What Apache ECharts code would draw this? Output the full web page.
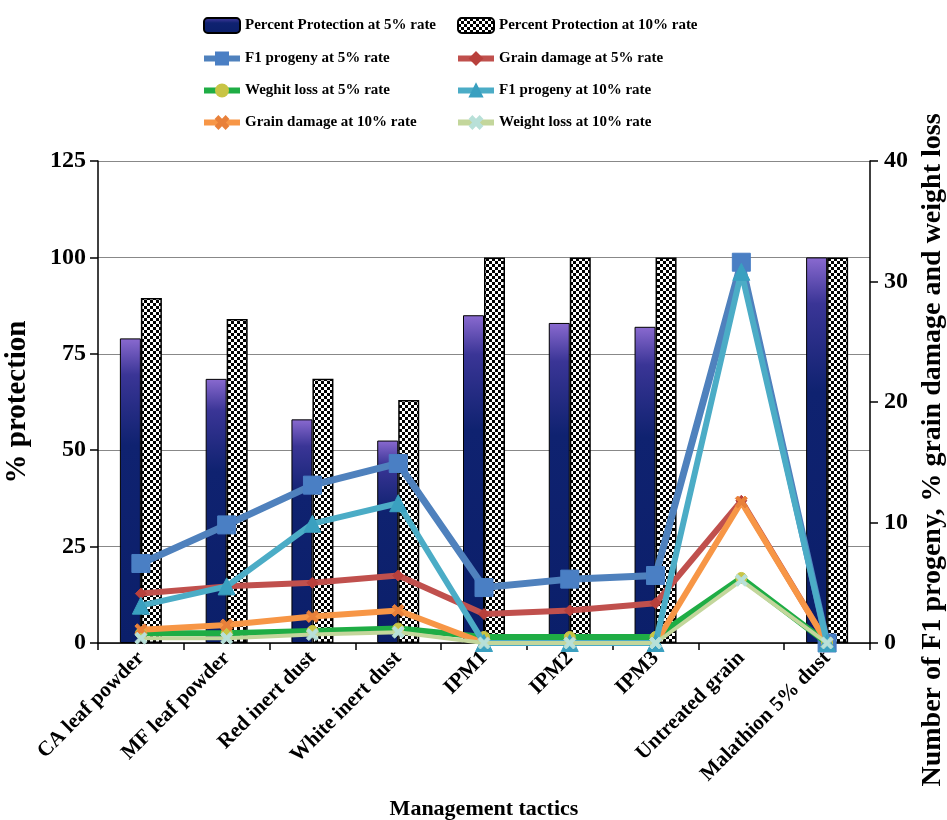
<!DOCTYPE html>
<html>
<head>
<meta charset="utf-8">
<script src="https://cdn.jsdelivr.net/npm/echarts@6/dist/echarts.min.js"></script>
<style>
html,body{margin:0;padding:0;background:#fff;}
#chart{width:947px;height:820px;}
</style>
</head>
<body>
<div id="chart"></div>
<script>
const categories = ["CA leaf powder","MF leaf powder","Red inert dust","White inert dust","IPM1","IPM2","IPM3","Untreated grain","Malathion 5% dust"];
const protection5 = [79, 68.5, 58, 52.5, 85, 83, 82, 0, 100];
const protection10 = [89.5, 84, 68.5, 63, 100, 100, 100, 0, 100];
const f1Progeny5 = [6.6, 9.8, 13.1, 14.9, 4.6, 5.3, 5.6, 31.6, 0];
const grainDamage5 = [4.1, 4.7, 5.0, 5.6, 2.4, 2.7, 3.3, 11.8, 0];
const weightLoss5 = [0.8, 0.8, 1.0, 1.2, 0.5, 0.5, 0.5, 5.4, 0];
const f1Progeny10 = [3.1, 4.7, 9.9, 11.6, 0, 0, 0, 30.8, 0];
const grainDamage10 = [1.1, 1.5, 2.2, 2.7, 0, 0, 0, 11.7, 0];
const weightLoss10 = [0.4, 0.4, 0.7, 0.9, 0, 0, 0, 5.2, 0];
const leftTicks = {min: 0, max: 125, interval: 25};
const rightTicks = {min: 0, max: 40, interval: 10};
const rightAxisTitle = 'Number of F1 progeny, % grain damage and weight loss';

const names = {
  p5: "Percent Protection at 5% rate",
  p10: "Percent Protection at 10% rate",
  f5: "F1 progeny at 5% rate",
  g5: "Grain damage at 5% rate",
  w5: "Weghit loss at 5% rate",
  f10: "F1 progeny at 10% rate",
  g10: "Grain damage at 10% rate",
  w10: "Weight loss at 10% rate"
};

// zero-height bars are not drawn
const barData = arr => arr.map(v => (v === 0 ? '-' : v));

// checker pattern
const cv = document.createElement('canvas');
cv.width = 6; cv.height = 6;
const cx = cv.getContext('2d');
cx.fillStyle = '#fff'; cx.fillRect(0,0,6,6);
cx.fillStyle = '#000'; cx.fillRect(0,0,3,3); cx.fillRect(3,3,3,3);

const FONT = '"Liberation Serif", "Times New Roman", serif';
const star = 'path://M2,0 L5,3 L8,0 L10,2 L7,5 L10,8 L8,10 L5,7 L2,10 L0,8 L3,5 L0,2 Z';

function lineSeries(name, data, color, width, symbol, size, symColor, z) {
  return {
    name, type: 'line', yAxisIndex: 1, data,
    symbol, symbolSize: size, showAllSymbol: true,
    lineStyle: {color, width},
    itemStyle: {color: symColor || color, borderColor: symColor || color, borderWidth: 1},
    z: z || 3,
    emphasis: {disabled: true}
  };
}

function legendItem(name, lw) {
  return lw ? {name, lineStyle: {width: lw}} : {name};
}

const legendText = {fontFamily: FONT, fontWeight: 'bold', fontSize: 15, color: '#000'};

const chart = echarts.init(document.getElementById('chart'));
chart.setOption({
  animation: false,
  backgroundColor: '#fff',
  legend: [
    {
      orient: 'vertical', left: 196, top: 12, itemGap: 17, itemWidth: 36, itemHeight: 15,
      textStyle: legendText,
      data: [legendItem(names.p5), legendItem(names.f5, 6), legendItem(names.w5, 6), legendItem(names.g10, 6)]
    },
    {
      orient: 'vertical', left: 450, top: 12, itemGap: 17, itemWidth: 36, itemHeight: 15,
      textStyle: legendText,
      data: [legendItem(names.p10), legendItem(names.g5, 6), legendItem(names.f10, 6), legendItem(names.w10, 6)]
    }
  ],
  grid: {left: 98, right: 77, top: 161, bottom: 177, outerBoundsMode: 'none', containLabel: false},
  graphic: [{
    type: 'text', x: 933, y: 450, rotation: Math.PI / 2, silent: true,
    style: {text: rightAxisTitle, fontFamily: FONT, fontWeight: 'bold', fontSize: 28, fill: '#000',
            align: 'center', verticalAlign: 'middle'}
  }],
  xAxis: {
    type: 'category', data: categories,
    axisLine: {lineStyle: {color: '#000', width: 1.5}},
    axisTick: {show: true, length: 7, lineStyle: {color: '#000', width: 1.5}},
    axisLabel: {rotate: 45, fontFamily: FONT, fontWeight: 'bold', fontSize: 21, color: '#000', margin: 12, interval: 0},
    name: 'Management tactics', nameLocation: 'middle', nameGap: 155,
    nameTextStyle: {fontFamily: FONT, fontWeight: 'bold', fontSize: 22, color: '#000'}
  },
  yAxis: [
    {
      type: 'value', min: leftTicks.min, max: leftTicks.max, interval: leftTicks.interval,
      axisLine: {show: true, lineStyle: {color: '#000', width: 1.5}},
      axisTick: {show: true, length: 8, lineStyle: {color: '#000', width: 1.5}},
      axisLabel: {fontFamily: FONT, fontWeight: 'bold', fontSize: 24, color: '#000', margin: 12},
      splitLine: {show: true, lineStyle: {color: '#888', width: 1.2}},
      name: '% protection', nameLocation: 'middle', nameGap: 66, nameRotate: 90,
      nameTextStyle: {fontFamily: FONT, fontWeight: 'bold', fontSize: 29, color: '#000'}
    },
    {
      type: 'value', min: rightTicks.min, max: rightTicks.max, interval: rightTicks.interval, position: 'right',
      axisLine: {show: true, lineStyle: {color: '#000', width: 1.5}},
      axisTick: {show: true, length: 8, lineStyle: {color: '#000', width: 1.5}},
      axisLabel: {fontFamily: FONT, fontWeight: 'bold', fontSize: 24, color: '#000', margin: 14},
      splitLine: {show: false}
    }
  ],
  series: [
    {
      name: names.p5, type: 'bar', yAxisIndex: 0, data: barData(protection5), barWidth: 21, barGap: '0%',
      itemStyle: {
        color: new echarts.graphic.LinearGradient(0, 0, 0, 1, [
          {offset: 0, color: '#8a6ad0'},
          {offset: 0.12, color: '#3a3596'},
          {offset: 0.35, color: '#0f2270'},
          {offset: 1, color: '#0b1f6a'}
        ]),
        borderColor: '#000', borderWidth: 1
      },
      emphasis: {disabled: true}, z: 2
    },
    {
      name: names.p10, type: 'bar', yAxisIndex: 0, data: barData(protection10), barWidth: 21,
      itemStyle: {color: {image: cv, repeat: 'repeat'}, borderColor: '#000', borderWidth: 1.5},
      emphasis: {disabled: true}, z: 2
    },
    lineSeries(names.f5, f1Progeny5, '#4f81bd', 7, 'rect', 18, '#4a7fc4', 3),
    lineSeries(names.g5, grainDamage5, '#c0504d', 6, 'diamond', 11, '#b8403c', 4),
    lineSeries(names.w5, weightLoss5, '#1fad45', 6, 'circle', 11, '#c8c445', 5),
    lineSeries(names.f10, f1Progeny10, '#4bacc6', 6, 'triangle', 17, '#3aa0c0', 6),
    lineSeries(names.g10, grainDamage10, '#f79646', 6, star, 12, '#e8803a', 5),
    lineSeries(names.w10, weightLoss10, '#c3d69b', 4, star, 12, '#b8e0d8', 7)
  ]
});
</script>
</body>
</html>
